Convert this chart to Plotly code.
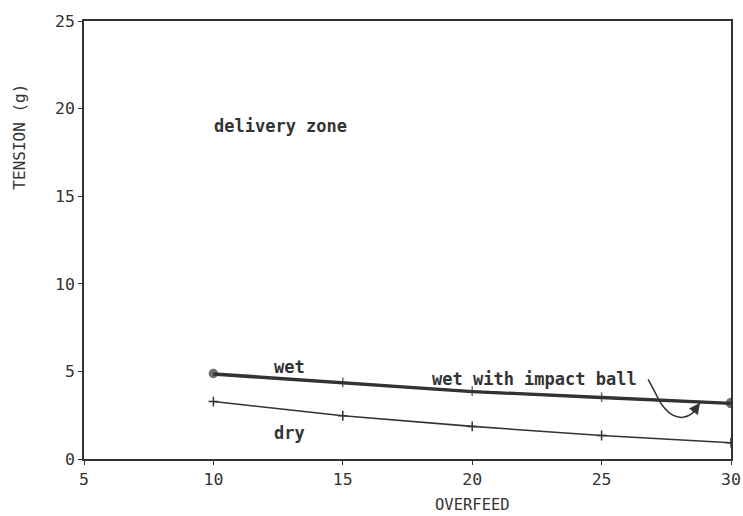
import plotly.graph_objects as go

# Data
overfeed = [10, 15, 20, 25, 30]
wet = [4.88, 4.37, 3.87, 3.53, 3.20]
wet_impact_ball = [4.82, 4.32, 3.83, 3.49, 3.16]
dry = [3.28, 2.47, 1.86, 1.34, 0.93]

x_ticks = [5, 10, 15, 20, 25, 30]
y_ticks = [0, 5, 10, 15, 20, 25]

# callout curve from the "wet with impact ball" label to the line
callout_x = [26.8, 27.05, 27.35, 27.75, 28.15, 28.5, 28.8]
callout_y = [4.55, 3.85, 3.05, 2.5, 2.38, 2.6, 3.2]

ink = "#333333"
mono = "DejaVu Sans Mono"

fig = go.Figure()

fig.add_trace(go.Scatter(
    x=overfeed, y=dry, mode="lines+markers",
    line=dict(color=ink, width=1.6),
    marker=dict(symbol="cross-thin", size=7, line=dict(color=ink, width=1.5)),
    showlegend=False, hoverinfo="skip"))

fig.add_trace(go.Scatter(
    x=overfeed, y=wet_impact_ball, mode="lines",
    line=dict(color=ink, width=2.6),
    showlegend=False, hoverinfo="skip"))

fig.add_trace(go.Scatter(
    x=overfeed, y=wet, mode="lines+markers",
    line=dict(color=ink, width=2.6),
    marker=dict(symbol=["circle", "cross-thin", "cross-thin", "cross-thin", "circle"],
                size=[8, 7, 7, 7, 9], color=ink, line=dict(color=ink, width=1.5)),
    showlegend=False, hoverinfo="skip"))

fig.add_trace(go.Scatter(
    x=callout_x, y=callout_y, mode="lines",
    line=dict(color=ink, width=1.5, shape="spline"),
    showlegend=False, hoverinfo="skip"))

fig.add_annotation(x=callout_x[-1], y=callout_y[-1], ax=callout_x[-2], ay=callout_y[-2],
                   xref="x", yref="y", axref="x", ayref="y", text="",
                   showarrow=True, arrowhead=2, arrowsize=1, arrowwidth=2.2, arrowcolor=ink)

txt = dict(family=mono, size=17, color=ink, weight="bold")
fig.add_annotation(x=12.6, y=19.0, text="delivery zone", showarrow=False, font=txt)
fig.add_annotation(x=12.95, y=5.25, text="wet", showarrow=False, font=txt)
fig.add_annotation(x=12.95, y=1.5, text="dry", showarrow=False, font=txt)
fig.add_annotation(x=22.4, y=4.55, text="wet with impact ball", showarrow=False, font=txt)

title_font = dict(family=mono, size=16, color=ink)
fig.add_annotation(x=-64 / 647, xref="paper", xanchor="center", y=18.4, yref="y",
                   text="TENSION (g)", textangle=-90, showarrow=False, font=title_font)
fig.add_annotation(x=20, xref="x", y=0, yref="paper", yanchor="middle", yshift=-46,
                   text="OVERFEED", showarrow=False,
                   font=dict(family=mono, size=15.5, color=ink))

axis_common = dict(
    showgrid=False, zeroline=False, showline=True, linecolor=ink, linewidth=1.6,
    mirror=True, ticks="outside", ticklen=4, tickwidth=1.4, tickcolor=ink,
    tickfont=dict(family=mono, size=16.5, color=ink),
)

fig.update_xaxes(range=[5, 30], tickvals=x_ticks, ticktext=[str(v) for v in x_ticks], **axis_common)
fig.update_yaxes(range=[0, 25], tickvals=y_ticks, ticktext=[str(v) for v in y_ticks], **axis_common)

fig.update_layout(
    width=743, height=516,
    margin=dict(l=84, r=12, t=21, b=57, autoexpand=False),
    paper_bgcolor="white", plot_bgcolor="white",
    font=dict(family=mono, color=ink),
)

fig.write_html("out.html", config={"displayModeBar": False},
               post_script="document.body.style.margin='0';")
